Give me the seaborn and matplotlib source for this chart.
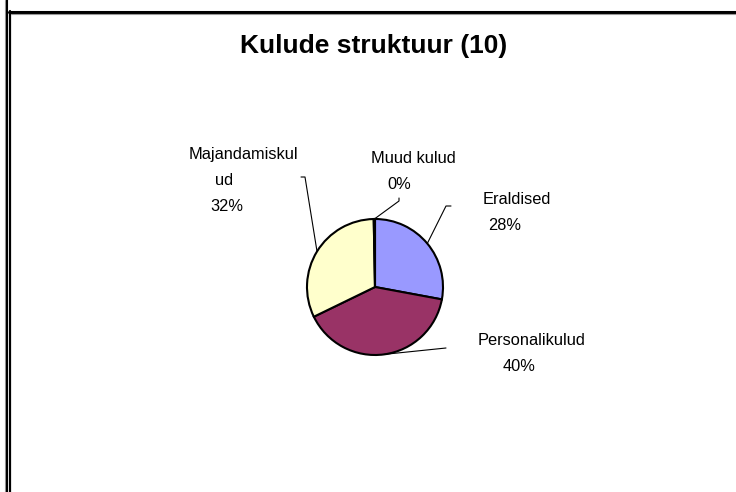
import numpy as np
import matplotlib
matplotlib.use("Agg")
import matplotlib.pyplot as plt
import seaborn as sns

# Andmed
title = "Kulude struktuur (10)"
categories = ["Eraldised", "Personalikulud", "Majandamiskulud", "Muud kulud"]
values = [28.0, 40.0, 32.0, 0.3]
label_lines = [["Eraldised"], ["Personalikulud"], ["Majandamiskul", "ud"], ["Muud kulud"]]
colors = ["#9999FF", "#993366", "#FFFFCC", "#000000"]

sns.set_theme(style="white")
plt.rcParams['font.family'] = ['Liberation Sans', 'DejaVu Sans']

W, H = 736, 492
fig = plt.figure(figsize=(W / 100, H / 100), dpi=100)
ax = fig.add_axes([0, 0, 1, 1])

cx, cy, r = 375, H - 287, 68
wedges, _ = ax.pie(values, colors=colors, startangle=90, counterclock=False,
                   center=(cx, cy), radius=r,
                   wedgeprops=dict(edgecolor="black", linewidth=1.5))
ax.set_xlim(0, W)
ax.set_ylim(0, H)
ax.set_aspect("equal")
ax.axis("off")

# teksti paigutus (pikslid ülalt): iga rea keskpunkt x ja baasjoon y
text_pos = [
    [(517, 204), (505, 230)],
    [(532, 345), (519, 371)],
    [(243, 159), (224, 185), (227, 211)],
    [(413, 163), (399, 189)],
]
# juhtjoonte algus (pikslid ülalt)
leader_start = [
    [(451, 206), (446, 206)],
    [(446, 348)],
    [(301, 177), (305, 177)],
    [(399, 198), (399, 201)],
]

for w, lines, v, pos, ls in zip(wedges, label_lines, values, text_pos, leader_start):
    txt = lines + [f"{round(v)}%"]
    for t, (x, y) in zip(txt, pos):
        ax.text(x, H - y, t, ha="center", va="baseline", fontsize=11.8, color="black")
    mid = np.deg2rad((w.theta1 + w.theta2) / 2)
    ex, ey = cx + r * np.cos(mid), cy + r * np.sin(mid)
    xs = [p[0] for p in ls] + [ex]
    ys = [H - p[1] for p in ls] + [ey]
    ax.plot(xs, ys, color="black", linewidth=0.8, zorder=1)

ax.text(374, H - 53, title, ha="center", va="baseline", fontsize=19,
        fontweight="bold", color="black")

# raam
ax.plot([4.5, 4.5], [0, H], color="#999999", linewidth=0.8, clip_on=False)
ax.plot([6.5, 6.5], [0, H], color="black", linewidth=1.5, clip_on=False)
ax.plot([10, 10], [0, H - 11], color="black", linewidth=1.6, clip_on=False)
ax.plot([9, W], [H - 12, H - 12], color="black", linewidth=2.2, clip_on=False)
ax.plot([11, W], [H - 14, H - 14], color="#999999", linewidth=0.8, clip_on=False)

fig.savefig("out.png", dpi=100)
